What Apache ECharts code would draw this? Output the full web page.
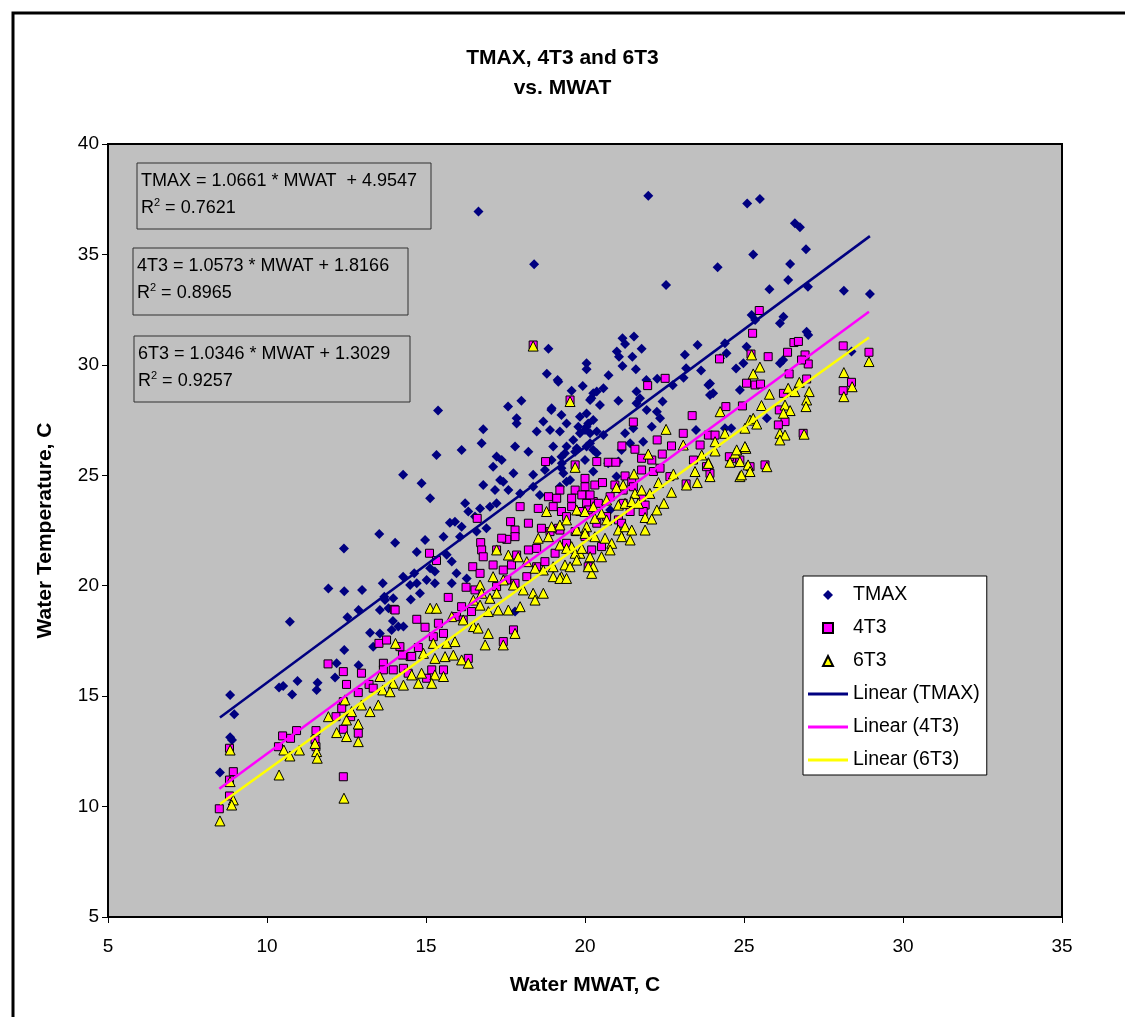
<!DOCTYPE html>
<html>
<head>
<meta charset="utf-8">
<title>TMAX, 4T3 and 6T3 vs. MWAT</title>
<script src="https://cdn.jsdelivr.net/npm/echarts@6/dist/echarts.min.js"></script>
<style>
    html, body { margin: 0; padding: 0; background: #fff; }
    #chart { width: 1125px; height: 1017px; }
</style>
</head>
<body>
<div id="chart"></div>
<script>
    // [MWAT, temperature] pairs
    const tmaxPts = [
        [13.53,22.34],[14.03,21.95],[12.42,21.68],[14.71,21.53],[11.93,19.87],[12.43,19.75],[12.99,19.81],[13.64,20.11],
        [13.69,19.5],[13.97,19.43],[14.52,19.38],[14.71,20.11],[14.63,20.56],[12.88,18.9],[12.53,18.57],[10.72,18.37],
        [13.82,18.98],[13.96,18.4],[14.29,18.15],[13.24,17.87],[13.55,17.84],[13.92,18.0],[13.34,17.24],[12.43,17.09],
        [12.19,16.49],[12.88,16.4],[12.14,15.84],[10.96,15.69],[11.59,15.61],[11.56,15.28],[10.38,15.39],[10.51,15.46],
        [10.79,15.08],[8.84,15.05],[8.97,14.18],[8.84,13.14],[8.9,13.01],[8.52,11.54],
        [19.16,29.24],[19.93,29.04],[20.26,28.71],[18.0,28.38],[17.58,28.11],[18.94,27.96],[19.26,27.73],[19.84,27.65],
        [20.05,27.8],[17.85,27.58],[15.38,27.93],[18.69,27.43],[16.8,27.08],[18.48,26.98],[18.9,27.05],[20.05,27.2],
        [20.26,27.5],[17.8,26.3],[18.22,26.07],[16.75,26.45],[16.12,26.15],[15.33,25.92],[17.22,25.85],[17.38,25.69],
        [19.0,26.3],[19.26,25.84],[20.05,26.3],[17.75,25.09],[14.28,25.02],[14.86,24.64],[15.13,23.96],[16.8,24.56],
        [17.17,24.33],[17.43,24.71],[17.59,24.33],[17.96,24.18],[18.37,24.48],[17.22,23.73],[16.7,23.5],[17.01,23.58],
        [15.91,22.9],[15.75,22.85],[16.12,22.67],[16.59,22.45],[16.9,22.6],[14.97,22.07],[15.65,21.4],[15.81,21.1],
        [15.13,20.79],[15.96,20.56],[16.28,20.33],[15.02,20.26],[15.28,20.11],[14.81,19.66],[14.13,18.15],[17.8,18.83],
        [17.85,27.35],[19.84,26.9],[20.16,26.9],[19.42,27.35],[18.95,25.69],[18.74,25.24],[18.37,25.02],[19.26,25.32],
        [19.42,24.71],[18.58,24.11],[17.11,25.39],[17.33,24.79],[16.23,23.73],[16.33,23.36],[16.54,23.13],[15.55,22.22],
        [16.07,22.22],[15.28,20.64],[15.81,20.11],[14.28,20.41],[14.5,20.03],[13.55,18.9],[13.71,19.35],
        [16.65,36.94],[18.4,34.55],[21.99,37.66],[22.55,33.62],[24.17,34.42],[18.85,30.73],[21.18,31.2],[21.54,31.28],
        [21.26,30.94],[21.78,30.73],[21.0,30.6],[21.07,30.37],[21.49,30.37],[21.18,29.95],[21.6,29.8],[20.05,30.07],
        [20.05,29.8],[20.74,29.53],[18.8,29.6],[19.14,29.31],[19.58,28.83],[20.58,28.94],[20.37,28.79],[20.2,28.49],
        [21.05,28.38],[21.73,28.49],[21.62,28.26],[23.14,30.46],[23.54,30.9],[23.18,29.85],[23.1,29.42],[23.65,29.74],
        [22.76,29.08],[22.27,29.37],[23.88,29.09],[24.03,28.71],[22.44,28.34],[18.95,28.03],
        [25.1,37.31],[25.5,37.51],[26.6,36.41],[26.76,36.23],[26.95,35.23],[25.29,35.0],[26.45,34.57],[26.39,33.84],
        [25.8,33.42],[27.01,33.54],[28.14,33.35],[28.96,33.21],[25.24,32.26],[25.35,32.03],[26.24,32.18],[26.13,31.88],
        [26.97,31.5],[27.02,31.35],[24.4,30.98],[24.45,30.52],[24.25,30.3],[25.08,30.82],[24.98,30.07],[24.75,29.84],
        [26.13,30.07],[26.23,30.22],[28.38,30.6],[23.93,29.16],[23.93,28.63],[24.87,28.86],[25.72,27.58],[24.6,27.13],
        [21.93,29.31],[20.47,28.18],[20.16,28.41],[21.94,27.96],[22.26,27.88],[21.62,28.79],[20.1,27.35],[19.79,27.2],
        [20.0,27.05],[20.37,26.98],[20.58,26.82],[19.21,26.98],[21.26,26.9],[21.52,27.13],[21.42,26.45],[21.83,26.52],
        [22.1,27.2],[22.36,27.58],[19.63,26.6],[19.74,26.22],[20.26,26.15],[20.0,25.69],[20.73,25.54],[21.05,25.62],
        [20.99,24.94],[19.37,26.0],[19.27,25.54],[19.32,25.09],[23.49,27.05],[24.4,27.13],[20.79,23.43],
        [19.42,26.3],[19.69,26.07],[20.16,26.45],[20.37,26.0],[19.53,24.79],[20.26,25.17],[19.21,24.48],[21.15,26.15]
    ];

    const t4Pts = [
        [14.0,18.93],[14.71,18.48],[13.52,17.39],[11.92,16.46],[12.4,16.11],[12.97,16.04],[12.5,15.53],[13.21,15.53],
        [12.87,15.16],[13.66,16.49],[13.97,16.19],[14.29,16.26],[14.5,16.79],[14.26,16.86],[13.34,15.36],[12.4,14.75],
        [12.35,14.45],[12.17,14.07],[12.63,14.07],[12.4,13.5],[12.87,13.32],[11.54,13.44],[11.51,13.02],[11.54,12.71],
        [10.93,13.44],[10.74,13.09],[10.49,13.2],[10.36,12.71],[8.82,12.64],[8.94,11.58],[8.82,11.2],[8.82,10.48],
        [8.5,9.9],[12.4,11.35],[14.76,17.2],[14.55,16.8],
        [19.53,28.41],[18.76,25.62],[20.37,25.62],[19.69,25.47],[20.0,24.86],[20.31,24.56],[20.0,24.48],[19.21,24.33],
        [19.69,24.33],[18.85,24.03],[19.11,23.96],[19.58,23.96],[19.9,24.11],[20.26,23.81],[18.53,23.5],[19.0,23.58],
        [19.26,23.36],[19.58,23.58],[20.05,23.73],[17.96,23.58],[18.22,22.83],[17.66,22.9],[18.63,22.6],[18.9,22.45],
        [19.16,22.6],[17.8,22.52],[17.8,22.22],[17.54,22.1],[17.38,22.15],[16.61,23.05],[16.72,21.95],[16.75,21.62],
        [16.8,21.31],[17.22,21.62],[15.11,21.47],[15.33,21.14],[16.47,20.86],[16.7,20.56],[17.11,20.94],[17.43,20.71],
        [17.69,20.94],[17.85,21.39],[18.22,21.62],[18.48,21.69],[16.26,19.93],[16.54,19.81],[17.22,19.96],[17.54,20.26],
        [17.8,20.11],[18.17,20.41],[18.48,20.86],[18.74,21.09],[19.06,21.47],[15.7,19.47],[16.12,19.05],[16.43,18.83],
        [15.96,18.6],[16.17,18.45],[14.03,18.9],[14.97,18.12],[15.39,18.3],[15.55,17.84],[15.23,17.69],[17.75,18.0],
        [17.43,17.47],[16.33,16.71],[13.76,17.54],[14.18,17.24],[13.66,16.19],[14.44,16.04],[15.02,15.81],[15.18,16.19],
        [15.55,16.19],
        [24.23,30.27],[22.52,29.39],[21.97,29.06],[21.52,27.41],[23.37,27.7],[23.09,26.9],[23.88,26.82],[24.09,26.82],
        [23.62,26.37],[22.27,26.6],[22.72,26.33],[22.43,25.96],[21.16,26.33],[21.57,26.18],[21.78,25.77],[22.1,25.69],
        [20.73,25.59],[20.97,25.59],[20.55,24.67],[21.26,24.97],[21.47,24.71],[21.78,25.24],[22.15,25.17],[22.36,25.32],
        [22.67,24.94],[23.41,25.69],[23.93,25.09],[23.18,24.61],[23.82,25.39],[24.61,25.77],[24.87,25.69],[20.16,24.11],
        [20.42,23.73],[20.94,24.56],[21.2,24.33],[21.52,24.48],[20.79,24.03],[21.2,23.73],[21.89,23.65],[21.78,24.03],
        [19.42,23.13],[19.84,23.36],[20.1,23.43],[20.37,22.83],[20.68,23.13],[21.05,22.98],[19.69,22.45],[20.0,22.22],
        [20.52,21.77],[20.21,21.62],[20.1,20.86],[21.15,22.83],[21.42,23.36],[21.83,23.36],[19.21,22.52],[19.42,21.92],
        [25.48,32.46],[25.27,31.43],[25.76,30.37],[26.57,31.01],[26.71,31.06],[26.37,30.57],[26.92,30.45],[27.02,30.04],
        [26.81,30.22],[25.22,30.49],[28.12,30.86],[28.93,30.57],[26.42,29.59],[26.97,29.36],[28.38,29.21],[28.12,28.83],
        [25.08,29.17],[25.35,29.09],[25.52,29.13],[26.24,28.71],[24.95,28.14],[24.43,28.11],[26.11,27.96],[26.29,27.43],
        [26.08,27.28],[26.86,26.9],[24.54,25.84],[25.19,25.39],[25.66,25.47],[18.37,30.9]
    ];

    const t6Pts = [
        [14.04,17.39],[13.55,15.89],[13.97,15.58],[14.29,15.5],[14.76,15.58],[14.55,15.96],[13.64,15.28],[13.87,15.2],
        [12.45,14.83],[11.93,14.07],[12.19,13.35],[12.5,13.17],[12.87,12.94],[12.87,13.74],[12.5,13.92],[12.66,14.3],
        [12.97,14.6],[13.24,14.3],[13.5,14.6],[11.56,12.49],[11.58,12.19],[11.51,12.86],[11.02,12.56],[10.72,12.29],
        [10.53,12.56],[10.38,11.43],[12.42,10.38],[8.84,12.56],[8.84,11.13],[8.94,10.3],[8.89,10.07],[8.52,9.35],
        [19.53,28.34],[19.69,25.36],[18.79,23.36],[18.95,22.67],[19.21,22.75],[19.42,22.98],[19.74,23.43],[20.05,22.67],
        [20.26,23.58],[20.31,23.05],[18.53,22.15],[18.85,22.22],[19.21,21.84],[19.58,21.77],[19.84,21.47],[20.16,21.31],
        [20.26,20.86],[17.22,21.62],[17.59,21.39],[17.9,21.31],[18.17,21.09],[18.43,20.79],[18.69,20.71],[19.0,20.86],
        [19.37,20.94],[19.0,20.41],[19.26,20.41],[19.53,20.86],[17.11,20.41],[17.43,20.26],[17.75,20.03],[18.06,19.81],
        [18.37,19.66],[18.69,19.66],[16.7,20.03],[16.75,19.66],[16.49,19.35],[16.7,19.12],[17.01,19.43],[17.22,19.66],
        [16.96,18.83],[17.27,18.9],[17.59,18.9],[17.96,19.05],[18.43,19.35],[15.13,18.98],[15.33,18.98],[15.81,18.6],
        [16.17,18.45],[16.49,18.15],[16.64,18.08],[16.96,17.84],[16.86,17.32],[17.43,17.32],[17.8,17.84],[15.23,17.39],
        [15.65,17.39],[15.91,17.47],[14.92,16.94],[15.28,16.71],[15.6,16.79],[15.86,16.86],[16.12,16.64],[16.33,16.49],
        [14.86,16.04],[15.28,15.96],[15.55,15.89],[15.18,15.58],
        [24.25,27.88],[22.55,27.08],[21.99,25.96],[23.09,26.37],[23.67,25.92],[23.88,25.57],[24.09,26.1],[24.4,26.9],
        [24.72,26.0],[24.56,25.59],[23.46,25.17],[23.93,24.94],[23.53,24.67],[23.19,24.56],[21.54,25.06],[22.78,25.06],
        [22.31,24.67],[22.72,24.23],[22.48,23.73],[22.26,23.43],[21.89,23.09],[21.2,24.56],[20.99,24.45],[21.57,24.18],
        [21.78,24.33],[22.04,24.18],[21.89,22.52],[22.1,23.02],[20.68,23.88],[21.05,23.65],[21.26,23.73],[21.47,23.81],
        [21.68,23.73],[20.0,23.36],[20.52,23.28],[20.68,22.98],[21.05,22.52],[21.26,22.67],[21.47,22.52],[21.15,22.22],
        [21.42,22.07],[20.31,22.22],[20.63,22.15],[20.84,21.92],[20.52,21.31],[20.79,21.62],[20.21,20.56],[20.1,20.86],
        [19.74,22.52],[20.0,22.37],[19.42,21.69],[19.69,21.47],[19.9,21.69],[19.74,21.16],[19.21,20.33],[19.42,20.33],
        [28.93,30.15],[28.14,29.65],[28.4,29.01],[28.14,28.56],[25.24,30.45],[25.5,29.9],[25.29,29.59],[26.74,29.21],
        [27.05,28.79],[26.97,28.41],[26.95,28.11],[26.39,28.94],[26.6,28.79],[25.8,28.67],[25.55,28.16],[26.29,28.18],
        [26.45,27.93],[26.24,27.81],[26.89,26.86],[26.13,26.9],[26.29,26.82],[25.19,27.5],[25.29,27.58],[25.4,27.32],
        [25.03,27.13],[24.09,26.52],[24.77,26.15],[25.06,26.22],[23.88,25.54],[24.87,25.62],[25.13,25.47],[25.19,25.17],
        [24.87,24.94],[25.72,25.39],[25.03,26.3],[24.92,25.02],[26.13,26.6],[18.37,30.85]
    ];

    const seriesNames = ['TMAX', '4T3', '6T3'];
    const fitSlope = [1.0661, 1.0573, 1.0346];
    const fitIntercept = [4.9547, 1.8166, 1.3029];
    const fitR2 = ['0.7621', '0.8965', '0.9257'];
    const fitText = ['TMAX = 1.0661 * MWAT  + 4.9547', '4T3 = 1.0573 * MWAT + 1.8166', '6T3 = 1.0346 * MWAT + 1.3029'];
    const xTicks = [5, 35, 5];   // min, max, step
    const yTicks = [5, 40, 5];

    const FONT = "'Liberation Sans', Arial, sans-serif";
    const allPts = [tmaxPts, t4Pts, t6Pts];
    const colors = ['#000080', '#FF00FF', '#FFFF00'];
    // legend markers as paths so they keep their shape inside the 40px wide icon slot
    const legendMarks = ['path://M5,0L10,5L5,10L0,5Z', 'path://M0,0L10,0L10,10L0,10Z', 'path://M5,0L10,10L0,10Z'];
    const legendBar = 'path://M0,0L40,0L40,3L0,3Z';

    // trendline end points from the regression equations, over each series' x range
    function fitLine(i) {
        let xs = allPts[i].map(p => p[0]);
        let x0 = Math.min(...xs), x1 = Math.max(...xs);
        return [[x0, fitSlope[i] * x0 + fitIntercept[i]], [x1, fitSlope[i] * x1 + fitIntercept[i]]];
    }

    // equation boxes: [left, top, width, height]
    const boxes = [[137, 163, 294, 66], [133, 248, 275, 67], [134, 336, 276, 66]];

    let graphics = [{
        type: 'rect', z: 0, silent: true,
        shape: { x: 13, y: 13, width: 1200, height: 1100 },
        style: { fill: null, stroke: '#000', lineWidth: 3 }
    }];
    boxes.forEach((b, i) => {
        graphics.push({
            type: 'rect', z: 10,
            shape: { x: b[0], y: b[1], width: b[2], height: b[3] },
            style: { fill: null, stroke: '#303030', lineWidth: 1 }
        });
        graphics.push({
            type: 'text', z: 10, x: b[0] + 4, y: b[1] + 18,
            style: { text: fitText[i], font: '18px ' + FONT, fill: '#000', verticalAlign: 'middle' }
        });
        graphics.push({
            type: 'text', z: 10, x: b[0] + 4, y: b[1] + 45,
            style: {
                text: '{n|R}{s|2}{n| = ' + fitR2[i] + '}',
                verticalAlign: 'middle',
                rich: {
                    n: { fontSize: 18, fontFamily: FONT, lineHeight: 22, fill: '#000' },
                    s: { fontSize: 11, fontFamily: FONT, lineHeight: 22, verticalAlign: 'top', fill: '#000' }
                }
            }
        });
    });

    let legendData = seriesNames.map((n, i) => ({ name: n, icon: legendMarks[i] }))
        .concat(seriesNames.map(n => ({ name: 'Linear (' + n + ')', icon: legendBar })));

    let chart = echarts.init(document.getElementById('chart'));
    chart.setOption({
        animation: false,
        backgroundColor: '#fff',
        textStyle: { fontFamily: FONT, color: '#000' },
        title: {
            text: 'TMAX, 4T3 and 6T3\nvs. MWAT',
            left: 'center', top: 43, padding: [0, 0, 0, 11],
            textStyle: { fontFamily: FONT, fontSize: 21, fontWeight: 'bold', lineHeight: 30, color: '#000' }
        },
        grid: {
            left: 108, top: 144, width: 954, height: 773,
            show: true, backgroundColor: '#C0C0C0', borderColor: '#000', borderWidth: 2
        },
        legend: {
            orient: 'vertical', left: 803, top: 576,
            itemWidth: 40, itemHeight: 10, itemGap: 13,
            padding: [9, 7, 5, 5],
            backgroundColor: '#fff', borderColor: '#000', borderWidth: 1, borderRadius: 0,
            selectedMode: false, symbolKeepAspect: true,
            textStyle: { fontFamily: FONT, fontSize: 19.5, color: '#000' },
            data: legendData
        },
        xAxis: {
            type: 'value', min: xTicks[0], max: xTicks[1], interval: xTicks[2],
            name: 'Water MWAT, C', nameLocation: 'middle', nameGap: 58,
            nameTextStyle: { fontFamily: FONT, fontSize: 21, fontWeight: 'bold', color: '#000' },
            axisLine: { show: true, onZero: false, lineStyle: { color: '#000', width: 2 } },
            axisTick: { show: true, inside: false, length: 6, lineStyle: { color: '#000', width: 1 } },
            axisLabel: { fontFamily: FONT, fontSize: 19, color: '#000', margin: 20 },
            splitLine: { show: false }
        },
        yAxis: {
            type: 'value', min: yTicks[0], max: yTicks[1], interval: yTicks[2],
            name: 'Water Temperature, C', nameLocation: 'middle', nameGap: 52,
            nameTextStyle: { fontFamily: FONT, fontSize: 21, fontWeight: 'bold', color: '#000' },
            axisLine: { show: true, onZero: false, lineStyle: { color: '#000', width: 2 } },
            axisTick: { show: true, inside: false, length: 6, lineStyle: { color: '#000', width: 1 } },
            axisLabel: { fontFamily: FONT, fontSize: 19, color: '#000', margin: 9 },
            splitLine: { show: false }
        },
        series: [
            {
                name: seriesNames[0], type: 'scatter', data: tmaxPts,
                symbol: 'diamond', symbolSize: 10,
                itemStyle: { color: colors[0], opacity: 1 }
            },
            {
                name: seriesNames[1], type: 'scatter', data: t4Pts,
                symbol: 'rect', symbolSize: 8,
                itemStyle: { color: colors[1], borderColor: '#000', borderWidth: 1, opacity: 1 }
            },
            {
                name: seriesNames[2], type: 'scatter', data: t6Pts,
                symbol: 'triangle', symbolSize: 10,
                itemStyle: { color: colors[2], borderColor: '#000', borderWidth: 1, opacity: 1 }
            },
            ...[0, 1, 2].map(i => ({
                name: 'Linear (' + seriesNames[i] + ')', type: 'line', data: fitLine(i),
                symbol: 'none', z: 5,
                lineStyle: { color: colors[i], width: 2.5 },
                itemStyle: { color: colors[i] }
            }))
        ],
        graphic: graphics
    });
</script>
</body>
</html>
